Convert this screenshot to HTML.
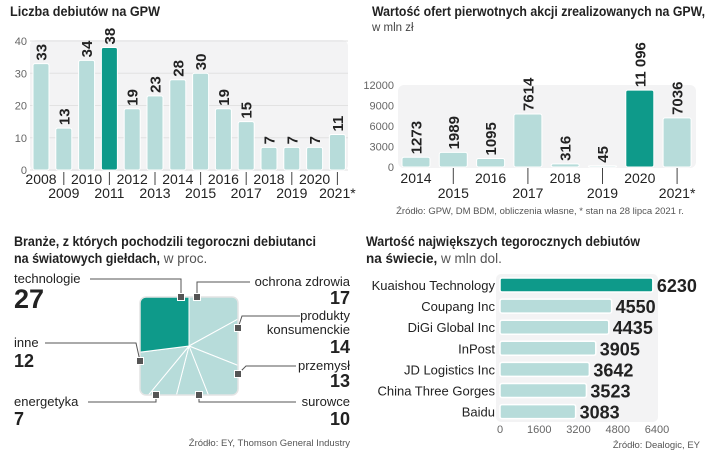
<!DOCTYPE html>
<html><head><meta charset="utf-8"><style>
body{margin:0;background:#fff}
svg{display:block;font-family:"Liberation Sans",sans-serif}
.t{font-weight:bold;font-size:13.5px;fill:#222}
.ax{font-size:11px;fill:#666}
.yr{font-size:14px;fill:#222}
.v{font-weight:bold;font-size:15px;fill:#222;font-family:"Liberation Sans Narrow","Liberation Sans",sans-serif}
.src{font-size:9.5px;fill:#555}
.lb{font-size:13px;fill:#222}
</style></head><body>
<svg id="s" width="720" height="452">
<text class="t" x="10" y="16" textLength="150" lengthAdjust="spacingAndGlyphs">Liczba debiutów na GPW</text>
<rect x="30" y="40" width="318" height="131" rx="6" fill="#f3f3f4"/>
<g id="c1"></g>
<text class="t" x="372" y="16" textLength="333" lengthAdjust="spacingAndGlyphs">Wartość ofert pierwotnych akcji  zrealizowanych na  GPW,</text>
<text x="372" y="31" font-size="11.5" fill="#444">w mln zł</text>
<rect x="398" y="85" width="298" height="83" rx="6" fill="#f3f3f4"/>
<g id="c2"></g>
<text class="src" x="540" y="214" text-anchor="middle">Źródło: GPW, DM BDM, obliczenia własne, * stan na 28 lipca 2021 r.</text>
<text class="t" x="14" y="246" textLength="302" lengthAdjust="spacingAndGlyphs">Branże, z których pochodzili tegoroczni debiutanci</text>
<text class="t" x="14" y="263"><tspan textLength="146" lengthAdjust="spacingAndGlyphs">na światowych giełdach,</tspan><tspan font-weight="normal" fill="#555"> w proc.</tspan></text>
<g id="c3"></g>
<text class="src" x="350" y="446" text-anchor="end">Źródło: EY, Thomson General Industry</text>
<text class="t" x="366" y="246" textLength="274" lengthAdjust="spacingAndGlyphs">Wartość największych tegorocznych debiutów</text>
<text class="t" x="366" y="263">na świecie,<tspan font-weight="normal" fill="#555"> w mln dol.</tspan></text>
<g id="c4"></g>
<text class="src" x="700" y="448" text-anchor="end">Źródło: Dealogic, EY</text>
</svg>
<script>
const years1=["2008","2009","2010","2011","2012","2013","2014","2015","2016","2017","2018","2019","2020","2021*"];
const debuts=[33,13,34,38,19,23,28,30,19,15,7,7,7,11];
const ticks1=[0,10,20,30,40];
const years2=["2014","2015","2016","2017","2018","2019","2020","2021*"];
const offers=[1273,1989,1095,7614,316,45,11096,7036];
const offerLabels=["1273","1989","1095","7614","316","45","11 096","7036"];
const ticks2=[0,3000,6000,9000,12000];
const sectors=["ochrona zdrowia","produkty konsumenckie","przemysł","surowce","energetyka","inne","technologie"];
const shares=[17,14,13,10,7,12,27];
const companies=["Kuaishou Technology","Coupang Inc","DiGi Global Inc","InPost","JD Logistics Inc","China Three Gorges","Baidu"];
const ipoValues=[6230,4550,4435,3905,3642,3523,3083];
const ticks4=[0,1600,3200,4800,6400];
const NS="http://www.w3.org/2000/svg";
const LIGHT="#b7dcda",DARK="#0e9a8a";
function mk(p,tag,a,txt){const e=document.createElementNS(NS,tag);for(const k in a)e.setAttribute(k,a[k]);if(txt!=null)e.textContent=txt;p.appendChild(e);return e;}
// chart1
(function(){const g=document.getElementById('c1');
const y=v=>170-v*(129/40), x=i=>41+i*22.8;
ticks1.forEach(t=>{const l=mk(g,'line',{x1:30,x2:348,y1:y(t),y2:y(t),stroke:'#e2e2e2'});
const tx=mk(g,'text',{x:27,y:y(t)+4,'text-anchor':'end',class:'ax'},t);});
debuts.forEach((v,i)=>{const r=mk(g,'rect',{x:x(i)-8,y:y(v),width:16,height:170-y(v),rx:2,fill:i==3?DARK:LIGHT,stroke:'#fff','stroke-width':1});

const t=mk(g,'text',{class:'v',transform:`translate(${x(i)+5.5},${y(v)-3}) rotate(-90)`},v);
const odd=i%2==1;const yl=mk(g,'text',{x:x(i),y:odd?198:184,'text-anchor':'middle',class:'yr'},years1[i]);
if(odd){const tk=mk(g,'line',{x1:x(i),x2:x(i),y1:172,y2:185,stroke:'#444'});}});
})();
// chart2
(function(){const g=document.getElementById('c2');
const y=v=>167-v*(82/12000), x=i=>416+i*37.3;
ticks2.forEach(t=>{const tx=mk(g,'text',{x:394,y:y(t)+4,'text-anchor':'end',class:'ax'},t);});
offers.forEach((v,i)=>{const r=mk(g,'rect',{x:x(i)-14,y:y(v)-1,width:28,height:168-y(v),rx:2,fill:i==6?DARK:LIGHT,stroke:'#fff'});

const t=mk(g,'text',{class:'v',transform:`translate(${x(i)+5.5},${y(v)-4}) rotate(-90)`},offerLabels[i]);
const odd=i%2==1;const yl=mk(g,'text',{x:x(i),y:odd?198:183,'text-anchor':'middle',class:'yr'},years2[i]);
if(odd){const tk=mk(g,'line',{x1:x(i),x2:x(i),y1:168,y2:184,stroke:'#444'});}});
})();
// chart3
(function(){const g=document.getElementById('c3');
const cx=189,cy=346,R=120;
mk(g,'defs',{}).innerHTML='<clipPath id="sq"><rect x="140" y="297" width="98" height="98" rx="6"/></clipPath>';
const pg=mk(g,'g',{'clip-path':'url(#sq)'});
const tot=shares.reduce((a,b)=>a+b,0);let a0=0;
shares.forEach((v,i)=>{const a1=a0+v/tot*2*Math.PI;
const p=(a)=>[cx+R*Math.sin(a),cy-R*Math.cos(a)];const [x0,y0]=p(a0),[x1,y1]=p(a1);
const s=mk(pg,'path',{d:`M${cx},${cy}L${x0},${y0}A${R},${R} 0 ${a1-a0>Math.PI?1:0} 1 ${x1},${y1}Z`,fill:i==6?DARK:LIGHT,stroke:'#fff','stroke-width':1});
a0=a1;});
mk(g,'rect',{x:140,y:297,width:98,height:98,rx:6,fill:'none',stroke:'#e4e4e4','stroke-width':1.5});
const L=[
 {m:[197,297],pts:"197,297 197,282 250,282",tx:350,ty:286,a:'end',val:shares[0],vy:304,n:sectors[0]},
 {m:[238,328],pts:"238,328 242,316 300,316",tx:350,ty:320,a:'end',val:shares[1],vy:353,n:"produkty",n2:"konsumenckie"},
 {m:[238,374],pts:"238,374 246,366 296,366",tx:350,ty:370,a:'end',val:shares[2],vy:387,n:sectors[2]},
 {m:[199,395],pts:"199,395 199,402 296,402",tx:350,ty:406,a:'end',val:shares[3],vy:425,n:sectors[3]},
 {m:[156,395],pts:"156,395 156,402 88,402",tx:14,ty:406,a:'start',val:shares[4],vy:425,n:sectors[4]},
 {m:[140,361],pts:"140,361 136,343 45,343",tx:14,ty:347,a:'start',val:shares[5],vy:367,n:sectors[5]},
 {m:[181,297],pts:"181,297 181,279 90,279",tx:14,ty:283,a:'start',val:shares[6],vy:308,n:sectors[6],big:1}];
L.forEach(o=>{const pl=mk(g,'polyline',{points:o.pts,fill:'none',stroke:'#555','stroke-width':1});
const m=mk(g,'rect',{x:o.m[0]-3.5,y:o.m[1]-3.5,width:7,height:7,fill:'#555',stroke:'#fff'});
const t=mk(g,'text',{x:o.tx,y:o.ty,'text-anchor':o.a,class:'lb'},o.n);
if(o.n2){const t2=mk(g,'text',{x:o.tx,y:o.ty+14,'text-anchor':o.a,class:'lb'},o.n2);}
const v=mk(g,'text',{x:o.tx,y:o.vy,'text-anchor':o.a,class:'v',style:'font-size:'+(o.big?27:18)+'px'},o.val);});
})();
// chart4
(function(){const g=document.getElementById('c4');
const x=v=>500+v*(157/6400), y=i=>285+i*21.1;
mk(g,'rect',{x:496,y:274,width:162,height:148,rx:5,fill:'#f3f3f4'});
ipoValues.forEach((v,i)=>{const r=mk(g,'rect',{x:500,y:y(i)-7,width:x(v)-500,height:14,rx:2,fill:i==0?DARK:LIGHT,stroke:'#fff','stroke-width':1.5});

const l=mk(g,'text',{x:495,y:y(i)+5,'text-anchor':'end',class:'lb'},companies[i]);
const t=mk(g,'text',{x:x(v)+4,y:y(i)+7,class:'v',style:'font-size:18px'},v);});
ticks4.forEach(t=>{const tx=mk(g,'text',{x:x(t),y:433,'text-anchor':'middle',class:'ax','font-size':10},t);});
})();
</script>
</body></html>
